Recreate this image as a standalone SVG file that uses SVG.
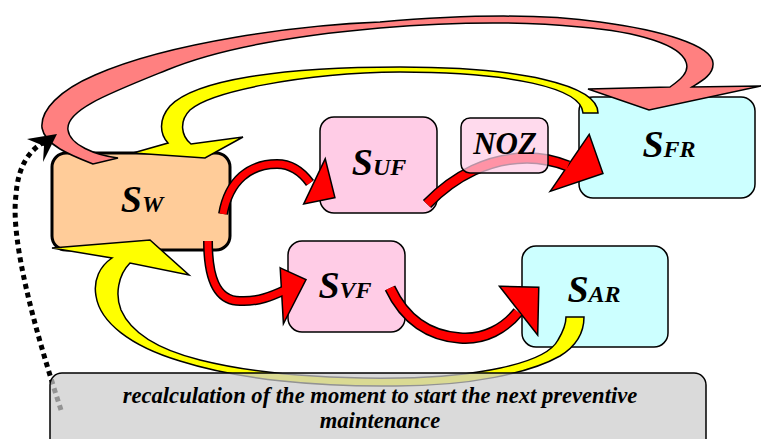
<svg xmlns="http://www.w3.org/2000/svg" width="761" height="439" viewBox="0 0 761 439">
<style>
.box{stroke:#000;stroke-width:1.5}
.pink{fill:#FFCCE6}
.cyan{fill:#CCFFFF}
.lbl{font-family:"Liberation Serif","Times New Roman",serif;font-weight:bold;font-style:italic;fill:#000}
.big{font-size:38px}
.sub{font-size:24px}
.blk{fill:none;stroke:#000}
.redS{fill:none;stroke:#FF0000}
.headB{fill:#000;stroke:#000;stroke-width:3;stroke-linejoin:miter}
.headR{fill:#FF0000}
.band{stroke:#000;stroke-width:1.5;stroke-linejoin:miter}
</style>
<rect width="761" height="439" fill="#fff"/>
<g id="SW">
<rect x="52" y="153" width="178" height="97" rx="14" fill="#FFCC99" stroke="#000" stroke-width="3"/>
<text class="lbl" x="142" y="212" text-anchor="middle"><tspan class="big">S</tspan><tspan class="sub">W</tspan></text>
</g>
<g id="SUF">
<rect class="box pink" x="320" y="117" width="117" height="96" rx="14"/>
<text class="lbl" x="379" y="175" text-anchor="middle"><tspan class="big">S</tspan><tspan class="sub">UF</tspan></text>
</g>
<g id="SFR">
<rect class="box cyan" x="579" y="97" width="176" height="101" rx="14"/>
<text class="lbl" x="669" y="157" text-anchor="middle"><tspan class="big">S</tspan><tspan class="sub">FR</tspan></text>
</g>
<g id="SVF">
<rect class="box pink" x="288" y="241" width="117" height="91" rx="14"/>
<text class="lbl" x="345" y="298" text-anchor="middle"><tspan class="big">S</tspan><tspan class="sub">VF</tspan></text>
</g>
<g id="SAR">
<rect class="box cyan" x="522" y="246" width="146" height="101" rx="14"/>
<text class="lbl" x="594" y="302" text-anchor="middle"><tspan class="big">S</tspan><tspan class="sub">AR</tspan></text>
</g>
<g id="connectors">
<path class="band" fill="#FF8080" d="M93,164 C70,155 45,145 42,128 C40,110 60,90 95,75 C170,42 300,25 380,22 C450,16 530,12 600,22 C660,30 712,45 713,63 C714,75 700,82 692,87 L761,86 L649,110 L588,89 L670,87 C680,80 690,72 686,62 C680,45 640,32 580,27 C510,20 440,23 380,28 C300,35 220,48 167,70 C110,93 65,110 68,130 C70,145 95,155 118,158 Z"/>
<path class="band" fill="#FFFF00" d="M598,113 C598,85 520,67 400,67 C280,67 195,80 170,106 C158,120 160,134 168,143 L133,153 L205,158 L243,137 L191,144 C181,136 179,121 190,110 C210,92 300,73 400,72 C510,72 582,88 583,113 Z"/>
<path class="band" fill="#FFFF00" d="M52,248 L150,240 L189,275 L130,263 C118,275 115,295 121,310 C132,335 160,350 200,360 C260,375 330,379 400,378 C470,377 545,365 558,340 C564,330 566,322 566,317 L584,317 C584,330 578,345 560,356 C530,373 470,386 396,386 C320,387 240,380 180,361 C130,346 100,322 96,296 C93,280 100,266 112,258 Z"/>
<path class="blk" stroke-width="10" d="M223,214 C229,180 250,164 277,164 C292,164 302,172 310,183"/>
<polygon class="headB" points="305,203 325,161 334,197"/>
<path class="redS" stroke-width="7" d="M223,214 C229,180 250,164 277,164 C292,164 302,172 310,183"/>
<polygon class="headR" points="305,203 325,161 334,197"/>
<path class="blk" stroke-width="11.5" d="M427,204 C455,175 490,158 527,158 C545,158 558,162 568,166"/>
<polygon class="headB" points="552,190 589,136 602,173"/>
<path class="redS" stroke-width="8.5" d="M427,204 C455,175 490,158 527,158 C545,158 558,162 568,166"/>
<polygon class="headR" points="552,190 589,136 602,173"/>
<path class="blk" stroke-width="10" d="M208,241 C208,275 215,301 240,301 C258,302 272,296 285,290"/>
<polygon class="headB" points="281,269 305,280 284,321"/>
<path class="redS" stroke-width="7" d="M208,241 C208,275 215,301 240,301 C258,302 272,296 285,290"/>
<polygon class="headR" points="281,269 305,280 284,321"/>
<path class="blk" stroke-width="11.5" d="M390,288 C405,320 430,336 460,338 C485,340 505,328 518,312"/>
<polygon class="headB" points="501,287 538,288 537,333"/>
<path class="redS" stroke-width="8.5" d="M390,288 C405,320 430,336 460,338 C485,340 505,328 518,312"/>
<polygon class="headR" points="501,287 538,288 537,333"/>
<path fill="none" stroke="#000" stroke-width="5" stroke-dasharray="5 4" d="M61,410 C35,330 10,240 16,195 C18,165 30,150 44,142"/>
<polygon fill="#000" points="27,139 57,134 43,162 44,146"/>
</g>
<g id="NOZ">
<rect x="461" y="118" width="87" height="55" rx="9" fill="#FFCCE6" fill-opacity="0.72" stroke="#000" stroke-width="1.5"/>
<text class="lbl" x="505" y="154" text-anchor="middle" font-size="31">NOZ</text>
</g>
<g id="recalc">
<rect x="50" y="373" width="656" height="80" rx="12" fill="#cccccc" fill-opacity="0.72" stroke="#000" stroke-width="1.5"/>
<text class="lbl" x="380" y="403" text-anchor="middle" font-size="22.6">recalculation of the moment to start the next preventive</text>
<text class="lbl" x="380" y="428" text-anchor="middle" font-size="22.6">maintenance</text>
</g>
</svg>
